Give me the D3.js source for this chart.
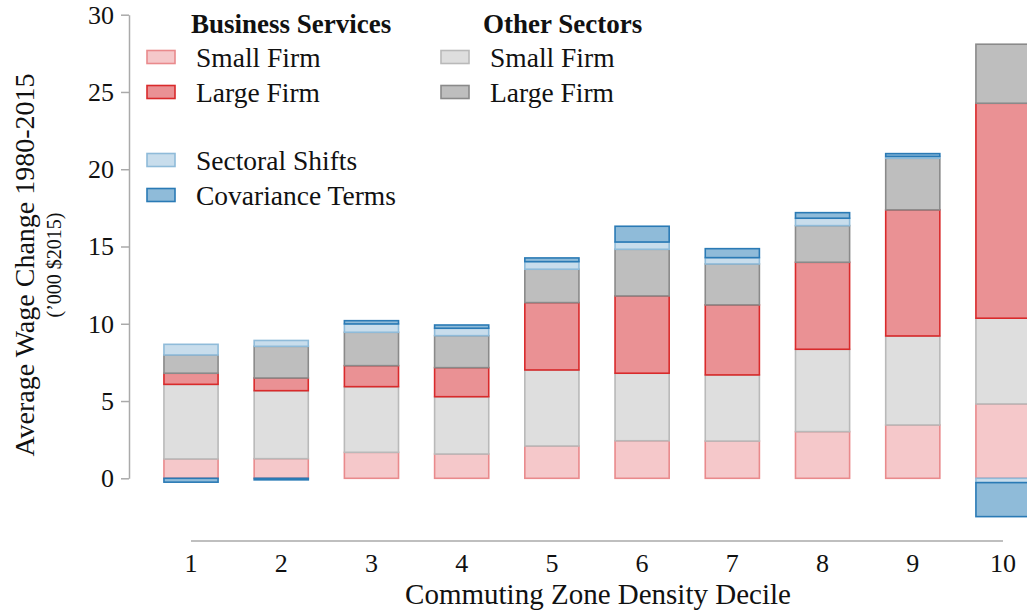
<meta charset="utf-8">
<style>
  body { margin: 0; background: #fff; }
  text { font-family: "Liberation Serif", "Times New Roman", serif; fill: #111; }
</style>
<svg width="1027" height="613"></svg>
<script src="https://d3js.org/d3.v7.min.js"></script>
<script>
var deciles = ["1", "2", "3", "4", "5", "6", "7", "8", "9", "10"];
var bsSmall    = [1.25, 1.27, 1.68, 1.57, 2.09, 2.43, 2.41, 3.02, 3.45, 4.81];
var osSmall    = [4.83, 4.40, 4.25, 3.71, 4.92, 4.37, 4.28, 5.33, 5.76, 5.55];
var bsLarge    = [0.72, 0.82, 1.36, 1.88, 4.36, 5.00, 4.53, 5.63, 8.16, 13.91];
var osLarge    = [1.18, 2.05, 2.16, 2.07, 2.16, 3.02, 2.65, 2.37, 3.34, 3.82];
var sectoral   = [0.69, 0.38, 0.54, 0.48, 0.49, 0.47, 0.41, 0.48, 0.12, -0.28];
var covariance = [-0.25, -0.10, 0.21, 0.21, 0.24, 1.02, 0.58, 0.36, 0.18, -2.20];
var yTicks = [0, 5, 10, 15, 20, 25, 30];

var keys = ["bsSmall", "osSmall", "bsLarge", "osLarge", "sectoral", "covariance"];
var fills   = { bsSmall: "#f5c8ca", osSmall: "#dedede", bsLarge: "#ea9194", osLarge: "#bebebe", sectoral: "#c8ddec", covariance: "#8fbbd9" };
var strokes = { bsSmall: "#e98a8c", osSmall: "#b9b9b9", bsLarge: "#d92a2b", osLarge: "#8a8a8a", sectoral: "#8fbbd9", covariance: "#2a7ab5" };

var data = deciles.map(function(d, i) {
  return { decile: d, bsSmall: bsSmall[i], osSmall: osSmall[i], bsLarge: bsLarge[i],
           osLarge: osLarge[i], sectoral: sectoral[i], covariance: covariance[i] };
});

var series = d3.stack()
  .keys(keys)
  .offset(d3.stackOffsetDiverging)
  (data);

var svg = d3.select("svg");

var x = d3.scaleBand()
  .domain(deciles)
  .range([145.9, 1048.1])
  .paddingInner(0.4)
  .paddingOuter(0.2);

var y = d3.scaleLinear()
  .domain([0, 30])
  .range([478.3, 14.7]);

// bars
svg.append("g")
  .selectAll("g")
  .data(series)
  .enter().append("g")
    .attr("fill", function(d) { return fills[d.key]; })
    .attr("stroke", function(d) { return strokes[d.key]; })
    .attr("stroke-width", 1.6)
  .selectAll("rect")
  .data(function(d) { return d; })
  .enter().append("rect")
    .attr("x", function(d) { return x(d.data.decile); })
    .attr("width", x.bandwidth())
    .attr("y", function(d) { return y(d[1]); })
    .attr("height", function(d) { return Math.abs(y(d[0]) - y(d[1])); });

// y axis
var yAxis = svg.append("g")
  .attr("transform", "translate(129,0)")
  .call(d3.axisLeft(y).tickValues(yTicks).tickSize(8).tickSizeOuter(0).tickPadding(7));
yAxis.select(".domain").attr("stroke", "#aaa").attr("stroke-width", 1.5);
yAxis.selectAll(".tick line").attr("stroke", "#aaa").attr("stroke-width", 1.5);
yAxis.selectAll(".tick text")
  .attr("font-family", "Liberation Serif, serif")
  .attr("font-size", "26px")
  .attr("fill", "#111");

// x axis
var xAxis = svg.append("g")
  .attr("transform", "translate(0,541)")
  .call(d3.axisBottom(x).tickSize(0).tickPadding(13));
xAxis.select(".domain").remove();
xAxis.append("line")
  .attr("x1", x(deciles[0]) + x.bandwidth() / 2)
  .attr("x2", x(deciles[9]) + x.bandwidth() / 2)
  .attr("stroke", "#aaa")
  .attr("stroke-width", 1.5);
xAxis.selectAll(".tick text")
  .attr("font-family", "Liberation Serif, serif")
  .attr("font-size", "26px")
  .attr("fill", "#111");

// axis titles
svg.append("text")
  .attr("x", 598)
  .attr("y", 604)
  .attr("text-anchor", "middle")
  .attr("font-size", "29px")
  .text("Commuting Zone Density Decile");

svg.append("text")
  .attr("transform", "translate(34,265) rotate(-90)")
  .attr("text-anchor", "middle")
  .attr("font-size", "28px")
  .text("Average Wage Change 1980-2015");

svg.append("text")
  .attr("transform", "translate(61,265) rotate(-90)")
  .attr("text-anchor", "middle")
  .attr("font-size", "20px")
  .text("(\u2019000 $2015)");

// legend
var legendHeaders = [
  { label: "Business Services", x: 191 },
  { label: "Other Sectors", x: 483 }
];
var legendItems = [
  { key: "bsSmall", label: "Small Firm", x: 147, y: 57 },
  { key: "bsLarge", label: "Large Firm", x: 147, y: 92 },
  { key: "osSmall", label: "Small Firm", x: 441, y: 57 },
  { key: "osLarge", label: "Large Firm", x: 441, y: 92 },
  { key: "sectoral", label: "Sectoral Shifts", x: 147, y: 160 },
  { key: "covariance", label: "Covariance Terms", x: 147, y: 195 }
];

svg.selectAll(".lhead")
  .data(legendHeaders)
  .enter().append("text")
    .attr("class", "lhead")
    .attr("x", function(d) { return d.x; })
    .attr("y", 33)
    .attr("font-size", "27px")
    .attr("font-weight", "bold")
    .text(function(d) { return d.label; });

var li = svg.selectAll(".litem")
  .data(legendItems)
  .enter().append("g")
    .attr("class", "litem")
    .attr("transform", function(d) { return "translate(" + d.x + "," + d.y + ")"; });

li.append("rect")
  .attr("x", 0)
  .attr("y", -6.5)
  .attr("width", 28)
  .attr("height", 13)
  .attr("fill", function(d) { return fills[d.key]; })
  .attr("stroke", function(d) { return strokes[d.key]; })
  .attr("stroke-width", 1.6);

li.append("text")
  .attr("x", 49)
  .attr("y", 10)
  .attr("font-size", "27.5px")
  .text(function(d) { return d.label; });
</script>
